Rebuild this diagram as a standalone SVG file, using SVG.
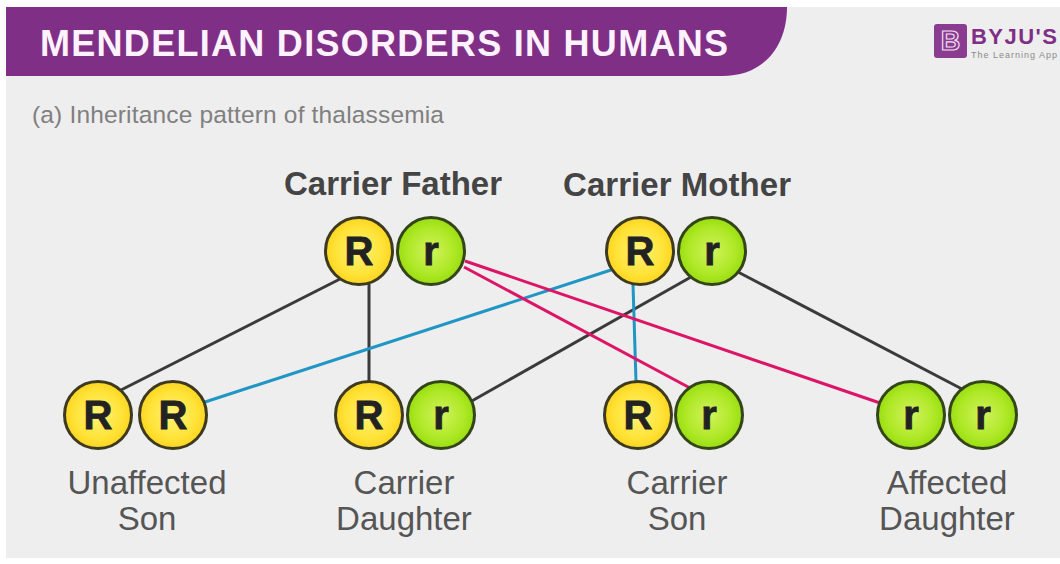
<svg xmlns="http://www.w3.org/2000/svg" width="1060" height="564" viewBox="0 0 1060 564">
<style>
text{font-family:"Liberation Sans",Arial,sans-serif}
.big{font-size:33px;fill:#555555;text-anchor:middle}
.par{font-size:33px;font-weight:700;fill:#444444;text-anchor:middle}
.l{font-size:40px;font-weight:700;fill:#222222;stroke:#222222;stroke-width:0.8;text-anchor:middle}
.R{fill:url(#y);stroke:#3d3a20;stroke-width:3}
.r{fill:url(#g);stroke:#34451a;stroke-width:3}
.k{stroke:#3a3a3a}.b{stroke:#1f96c4}.m{stroke:#dc1568}
#connectors line{stroke-width:3;fill:none}
</style>
<defs>
<radialGradient id="y"><stop offset="0" stop-color="#fff27a"/><stop offset="0.7" stop-color="#ffe338"/><stop offset="1" stop-color="#fdd520"/></radialGradient>
<radialGradient id="g"><stop offset="0" stop-color="#d2f25e"/><stop offset="0.7" stop-color="#aee826"/><stop offset="1" stop-color="#99de10"/></radialGradient>
</defs>
<rect width="1060" height="564" fill="#fff"/>
<rect x="6" y="7" width="1054" height="551" fill="#eeeeee"/>
<path d="M6 7H787C787 45 765 76 722 76H6Z" fill="#7f2f86"/>
<text x="40" y="56" font-size="36" font-weight="700" fill="#fdf2fd" textLength="688">MENDELIAN DISORDERS IN HUMANS</text>
<g id="logo">
<rect x="934" y="24" width="33" height="34" rx="3" fill="#8a3c90"/>
<text x="950.500" y="50" font-size="27" font-weight="700" fill="none" stroke="#eeddee" stroke-width="1.200" text-anchor="middle">B</text>
<text x="971" y="44" font-size="22" font-weight="700" fill="#7f2f86" textLength="86">BYJU'S</text>
<text x="971" y="58" font-size="9" fill="#8a8a8a" textLength="86">The Learning App</text>
</g>
<text x="32" y="123" font-size="24.500" fill="#808080" textLength="412">(a) Inheritance pattern of thalassemia</text>
<g id="connectors">
<line class="k" x1="340" y1="279" x2="121" y2="390"/>
<line class="k" x1="369" y1="284" x2="369" y2="382"/>
<line class="k" x1="691" y1="277" x2="470" y2="402"/>
<line class="k" x1="738" y1="272" x2="962" y2="389"/>
<line class="b" x1="611" y1="270" x2="205" y2="402"/>
<line class="b" x1="633" y1="284" x2="636" y2="382"/>
<line class="m" x1="464" y1="267" x2="690" y2="388"/>
<line class="m" x1="465" y1="261" x2="880" y2="403"/>
</g>
<g id="carrier-father">
<text class="par" x="393" y="195" textLength="218">Carrier Father</text>
<circle class="R" cx="359" cy="251" r="33.500"/><text class="l" x="359" y="265">R</text>
<circle class="r" cx="431" cy="251" r="33.500"/><text class="l" x="431" y="265">r</text>
</g>
<g id="carrier-mother">
<text class="par" x="677" y="196" textLength="228">Carrier Mother</text>
<circle class="R" cx="640" cy="251" r="33.500"/><text class="l" x="640" y="265">R</text>
<circle class="r" cx="712" cy="251" r="33.500"/><text class="l" x="712" y="265">r</text>
</g>
<g id="unaffected-son">
<circle class="R" cx="98" cy="415" r="33.500"/><text class="l" x="98" y="429">R</text>
<circle class="R" cx="173" cy="415" r="33.500"/><text class="l" x="173" y="429">R</text>
<text class="big" x="147" y="494">Unaffected</text><text class="big" x="147" y="530">Son</text>
</g>
<g id="carrier-daughter">
<circle class="R" cx="369" cy="415" r="33.500"/><text class="l" x="369" y="429">R</text>
<circle class="r" cx="441" cy="415" r="33.500"/><text class="l" x="441" y="429">r</text>
<text class="big" x="404" y="494">Carrier</text><text class="big" x="404" y="530">Daughter</text>
</g>
<g id="carrier-son">
<circle class="R" cx="638" cy="415" r="33.500"/><text class="l" x="638" y="429">R</text>
<circle class="r" cx="709" cy="415" r="33.500"/><text class="l" x="709" y="429">r</text>
<text class="big" x="677" y="494">Carrier</text><text class="big" x="677" y="530">Son</text>
</g>
<g id="affected-daughter">
<circle class="r" cx="911" cy="415" r="33.500"/><text class="l" x="911" y="429">r</text>
<circle class="r" cx="983" cy="415" r="33.500"/><text class="l" x="983" y="429">r</text>
<text class="big" x="947" y="494">Affected</text><text class="big" x="947" y="530">Daughter</text>
</g>
</svg>
